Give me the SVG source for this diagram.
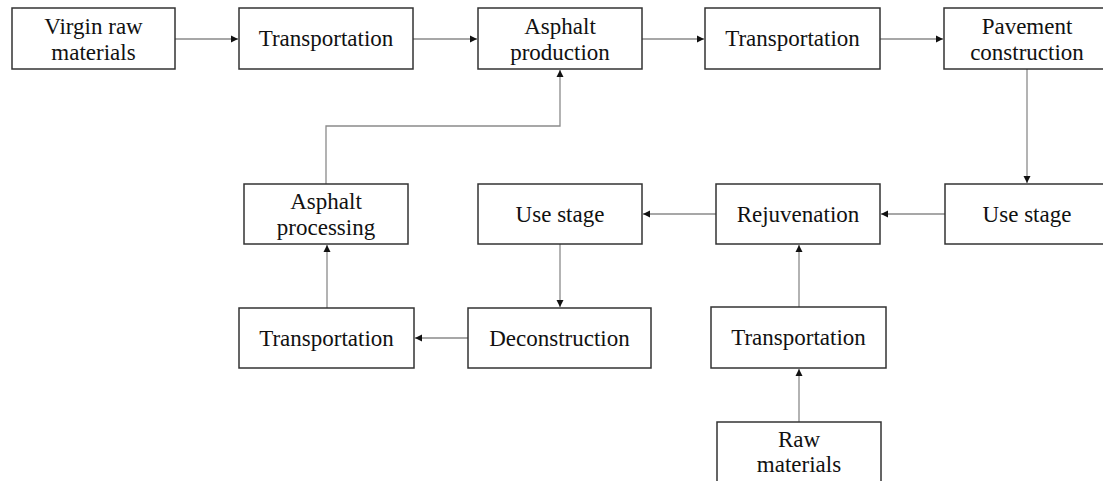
<svg xmlns="http://www.w3.org/2000/svg" width="1103" height="481" viewBox="0 0 1103 481">
<style>
.box{fill:#fff;stroke:#333;stroke-width:1.5}
.t{font-family:"Liberation Serif","Times New Roman",serif;font-size:23px;fill:#111;text-anchor:middle}
.c{fill:none;stroke:#8a8a8a;stroke-width:1.3;marker-end:url(#ah)}
</style>
<defs>
<marker id="ah" markerUnits="userSpaceOnUse" markerWidth="8" markerHeight="8" refX="7" refY="4" orient="auto">
<path d="M0,0.5 L7,4 L0,7.5 Z" fill="#111"/>
</marker>
</defs>
<rect width="1103" height="481" fill="#fff"/>
<g id="connectors">
<path class="c" d="M175,39 H238"/>
<path class="c" d="M413,39 H477"/>
<path class="c" d="M642,39 H704"/>
<path class="c" d="M880,39 H943"/>
<path class="c" d="M1027,69 V183"/>
<path class="c" d="M945,214 H881"/>
<path class="c" d="M716,214 H643"/>
<path class="c" d="M560,244 V307"/>
<path class="c" d="M468,338 H415"/>
<path class="c" d="M327,308 V245"/>
<path class="c" d="M326,184 V126 H560 V70"/>
<path class="c" d="M799,307 V245"/>
<path class="c" d="M799,422 V369"/>
</g>
<g id="n1"><rect class="box" x="12" y="8" width="163" height="61"/><text class="t" x="93.5" y="34">Virgin raw</text><text class="t" x="93.5" y="60">materials</text></g>
<g id="n2"><rect class="box" x="239" y="8" width="174" height="61"/><text class="t" x="326" y="46">Transportation</text></g>
<g id="n3"><rect class="box" x="478" y="8" width="164" height="61"/><text class="t" x="560" y="34">Asphalt</text><text class="t" x="560" y="60">production</text></g>
<g id="n4"><rect class="box" x="705" y="8" width="175" height="61"/><text class="t" x="792.5" y="46">Transportation</text></g>
<g id="n5"><rect class="box" x="944" y="8" width="168" height="61"/><text class="t" x="1027" y="34">Pavement</text><text class="t" x="1027" y="60">construction</text></g>
<g id="n6"><rect class="box" x="945" y="184" width="168" height="60"/><text class="t" x="1027" y="221.5">Use stage</text></g>
<g id="n7"><rect class="box" x="716" y="184" width="164" height="60"/><text class="t" x="798" y="221.5">Rejuvenation</text></g>
<g id="n8"><rect class="box" x="478" y="184" width="164" height="60"/><text class="t" x="560" y="221.5">Use stage</text></g>
<g id="n9"><rect class="box" x="244" y="184" width="164" height="60"/><text class="t" x="326" y="209">Asphalt</text><text class="t" x="326" y="235">processing</text></g>
<g id="n10"><rect class="box" x="239" y="308" width="175" height="60"/><text class="t" x="326.5" y="345.5">Transportation</text></g>
<g id="n11"><rect class="box" x="468" y="308" width="183" height="60"/><text class="t" x="559.5" y="345.5">Deconstruction</text></g>
<g id="n12"><rect class="box" x="711" y="307" width="175" height="61"/><text class="t" x="798.5" y="345">Transportation</text></g>
<g id="n13"><rect class="box" x="717" y="422" width="164" height="70"/><text class="t" x="799" y="447">Raw</text><text class="t" x="799" y="472">materials</text></g>
</svg>
